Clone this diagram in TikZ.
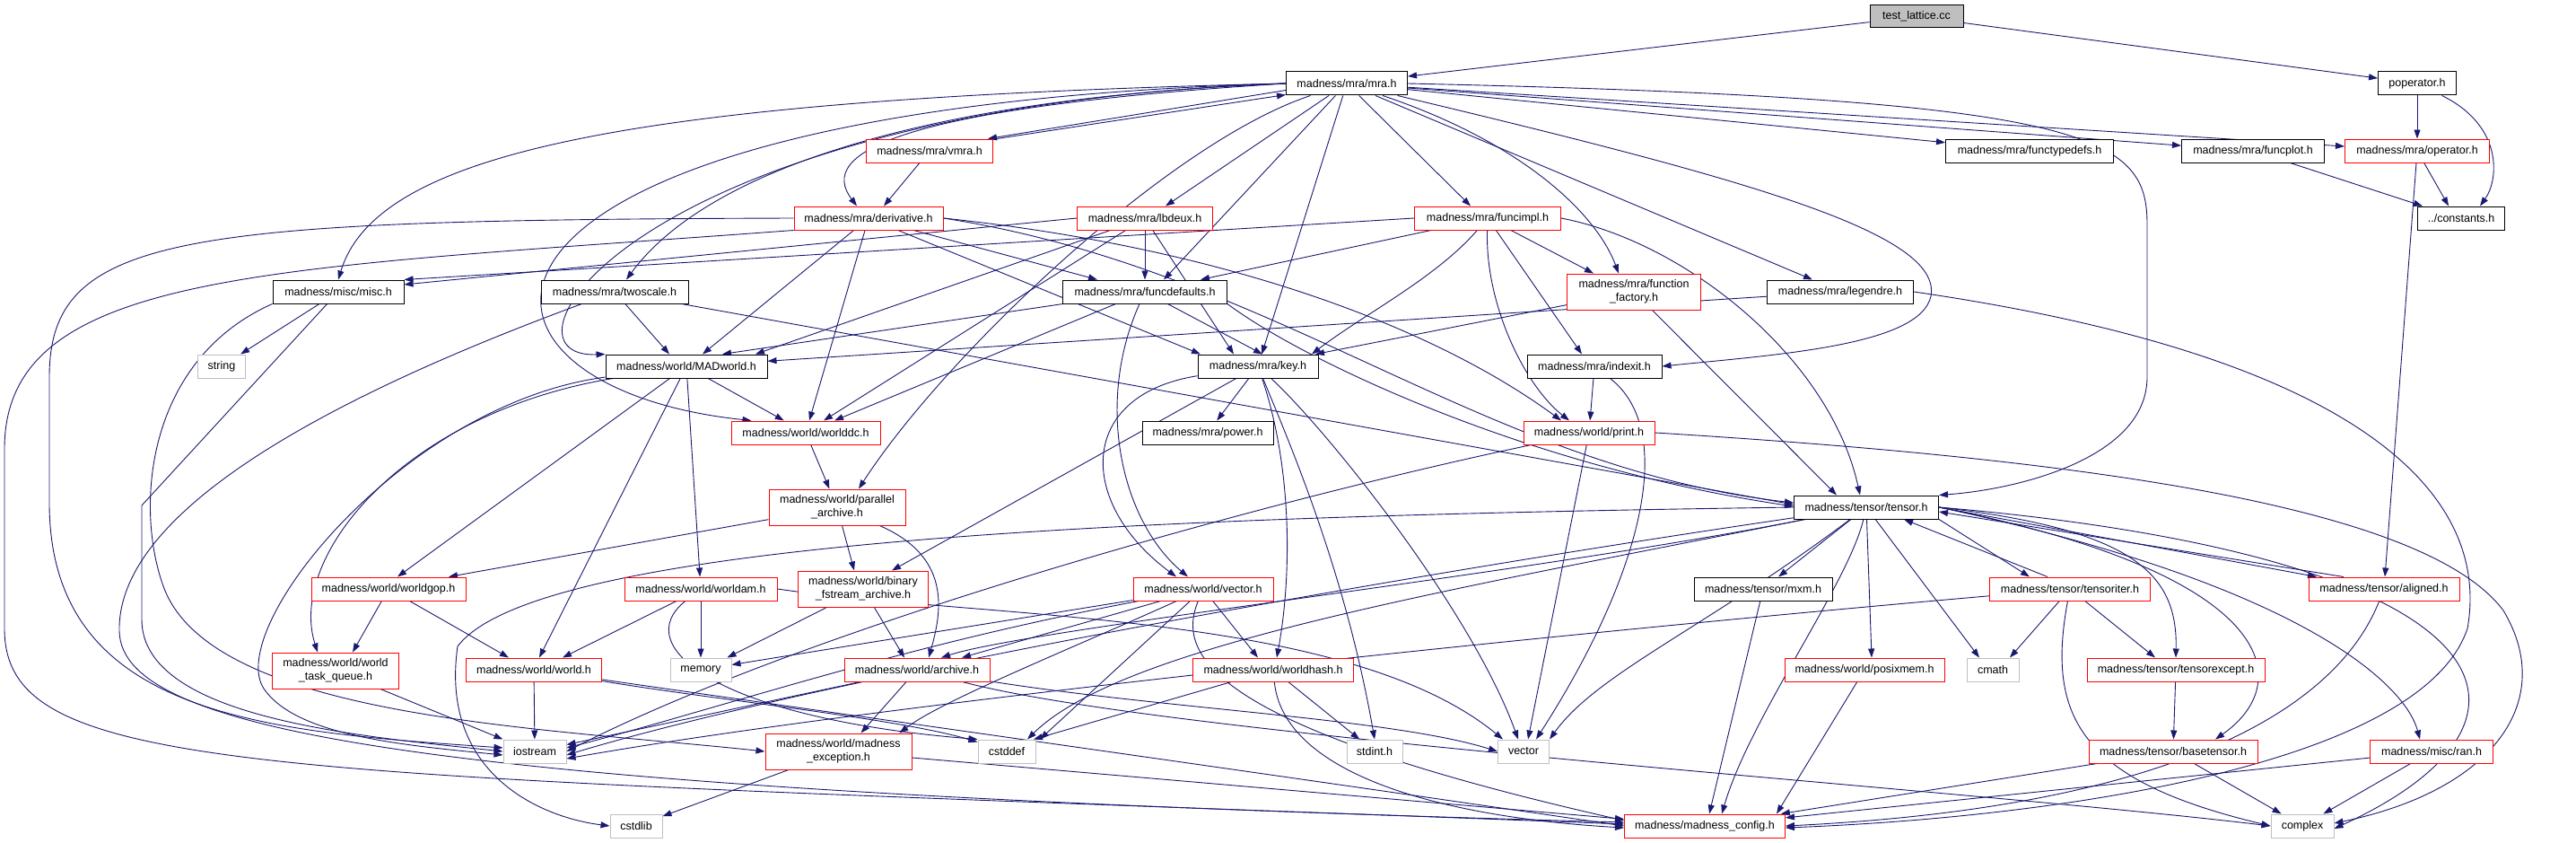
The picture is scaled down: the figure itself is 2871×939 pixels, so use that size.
\documentclass[tikz,border=0pt]{standalone}
\usepackage{fontspec}
\setmainfont{Liberation Sans}
\usetikzlibrary{arrows.meta, positioning}
\pgfdeclarelayer{background}
\pgfsetlayers{background,main}
\definecolor{edgeblue}{HTML}{191970}
\definecolor{sysgray}{HTML}{BFBFBF}

\begin{document}
\begin{tikzpicture}[x=1pt, y=-1pt, >={Triangle[length=10pt, width=7pt]},
    file/.style={rectangle, draw=black, fill=white, line width=1pt, minimum height=26pt, inner sep=0pt, font=\fontsize{12.5}{15}\selectfont, align=center},
    redfile/.style={file, draw=red},
    sysfile/.style={file, draw=sysgray},
    line/.style={draw=edgeblue, line width=0.9pt, ->}]

    \useasboundingbox (0,0) rectangle (2871,939);

    \node [file, fill=sysgray, minimum width=104pt, minimum height=25pt] (test) at (2136,18.5) {test\_lattice.cc};
    \node [file, minimum width=135pt] (mra) at (1501,93) {madness/mra/mra.h};
    \node [file, minimum width=87pt] (poper) at (2694,93) {poperator.h};
    \node [redfile, minimum width=141pt] (vmra) at (1036,168) {madness/mra/vmra.h};
    \node [file, minimum width=187pt] (functypedefs) at (2262,168) {madness/mra/functypedefs.h};
    \node [file, minimum width=159pt] (funcplot) at (2511,168) {madness/mra/funcplot.h};
    \node [redfile, minimum width=161pt] (operator) at (2694,168) {madness/mra/operator.h};
    \node [redfile, minimum width=166pt] (derivative) at (968,243) {madness/mra/derivative.h};
    \node [redfile, minimum width=151pt] (lbdeux) at (1276,243) {madness/mra/lbdeux.h};
    \node [redfile, minimum width=163pt] (funcimpl) at (1658,243) {madness/mra/funcimpl.h};
    \node [file, minimum width=97pt] (constants) at (2743,243) {../constants.h};
    \node [redfile, minimum width=149pt, minimum height=40pt] (factory) at (1821,325) {madness/mra/function\\\_factory.h};
    \node [file, minimum width=146pt] (misc) at (377,325) {madness/misc/misc.h};
    \node [file, minimum width=164pt] (twoscale) at (685,325) {madness/mra/twoscale.h};
    \node [file, minimum width=183pt] (funcdefaults) at (1276,325) {madness/mra/funcdefaults.h};
    \node [file, minimum width=163pt] (legendre) at (2051,325) {madness/mra/legendre.h};
    \node [sysfile, minimum width=53pt] (string) at (247,408) {string};
    \node [file, minimum width=180pt] (madworld) at (765,408) {madness/world/MADworld.h};
    \node [file, minimum width=134pt] (key) at (1402,408) {madness/mra/key.h};
    \node [file, minimum width=150pt] (indexit) at (1777,408) {madness/mra/indexit.h};
    \node [redfile, minimum width=166pt] (worlddc) at (898,482) {madness/world/worlddc.h};
    \node [file, minimum width=146pt] (power) at (1346,482) {madness/mra/power.h};
    \node [redfile, minimum width=146pt] (print) at (1771,482) {madness/world/print.h};
    \node [redfile, minimum width=152pt, minimum height=40pt] (parallel) at (933,565) {madness/world/parallel\\\_archive.h};
    \node [file, minimum width=161pt] (tensor) at (2080,565) {madness/tensor/tensor.h};
    \node [redfile, minimum width=172pt] (worldgop) at (433,656) {madness/world/worldgop.h};
    \node [redfile, minimum width=170pt] (worldam) at (781,656) {madness/world/worldam.h};
    \node [redfile, minimum width=145pt, minimum height=40pt] (binary) at (962,656) {madness/world/binary\\\_fstream\_archive.h};
    \node [redfile, minimum width=156pt] (vectorh) at (1341,656) {madness/world/vector.h};
    \node [file, minimum width=154pt] (mxm) at (1965,656) {madness/tensor/mxm.h};
    \node [redfile, minimum width=179pt] (tensoriter) at (2307,656) {madness/tensor/tensoriter.h};
    \node [redfile, minimum width=168pt] (aligned) at (2657,656) {madness/tensor/aligned.h};
    \node [redfile, minimum width=141pt, minimum height=40pt] (taskq) at (374,747) {madness/world/world\\\_task\_queue.h};
    \node [redfile, minimum width=151pt] (world) at (595,746) {madness/world/world.h};
    \node [sysfile, minimum width=68pt] (memory) at (781,746) {memory};
    \node [redfile, minimum width=162pt] (archive) at (1022,746) {madness/world/archive.h};
    \node [redfile, minimum width=179pt] (worldhash) at (1419,746) {madness/world/worldhash.h};
    \node [redfile, minimum width=178pt] (posixmem) at (2078,746) {madness/world/posixmem.h};
    \node [sysfile, minimum width=58pt] (cmath) at (2221,746) {cmath};
    \node [redfile, minimum width=198pt] (tensorexcept) at (2425,746) {madness/tensor/tensorexcept.h};
    \node [sysfile, minimum width=70pt] (iostream) at (596,837) {iostream};
    \node [redfile, minimum width=163pt, minimum height=40pt] (exception) at (934.5,837) {madness/world/madness\\\_exception.h};
    \node [sysfile, minimum width=64pt] (cstddef) at (1122,837) {cstddef};
    \node [sysfile, minimum width=62pt] (stdint) at (1532,837) {stdint.h};
    \node [sysfile, minimum width=57pt] (vector) at (1698,837) {vector};
    \node [redfile, minimum width=188pt] (basetensor) at (2422,837) {madness/tensor/basetensor.h};
    \node [redfile, minimum width=137pt] (ran) at (2710,837) {madness/misc/ran.h};
    \node [sysfile, minimum width=58pt] (cstdlib) at (709,920) {cstdlib};
    \node [redfile, minimum width=179pt] (config) at (1900,920) {madness/madness\_config.h};
    \node [sysfile, minimum width=70pt] (complex) at (2566,920) {complex};

    \begin{pgfonlayer}{background}
    \path [line] (test) -- (mra);
    \path [line] (test) -- (poper);
    \path [line] (poper) -- (operator);
    \path [line] (poper) .. controls (2790,140) and (2785,200) .. ([xshift=21]constants.north);
    \path [line] (operator) -- ([xshift=-14]constants.north);
    \path [line] (operator) -- (aligned);
    \path [line] (funcplot) -- ([xshift=-43]constants.north);

    \path [line] ([yshift=6pt]mra.south west) -- ([xshift=-6]vmra.north east);
    \path [line] ([xshift=4]vmra.north east) -- ([yshift=1pt]mra.south west);
    \path [line] (mra.west) .. controls (700,110) and (420,170) .. (misc.north);
    \path [line] (mra.west) .. controls (1000,110) and (780,200) .. ([xshift=13]twoscale.north);
    \path [line] (mra.west) .. controls (700,120) and (540,400) .. (madworld.north west);
    \path [line] (mra.west) .. controls (450,120) and (470,430) .. ([xshift=23]worlddc.north west);
    \path [line] (mra) .. controls (1300,160) and (1050,400) .. ([xshift=24]parallel.north);
    \path [line] (mra.west) .. controls (1000,120) and (910,170) .. ([xshift=-13]derivative.north);
    \path [line] (mra) -- ([xshift=23]lbdeux.north);
    \path [line] (mra) -- ([xshift=21]funcdefaults.north);
    \path [line] (mra) -- (key);
    \path [line] (mra) -- ([xshift=-19]funcimpl.north);
    \path [line] (mra) .. controls (1700,160) and (1780,240) .. ([xshift=-17]factory.north);
    \path [line] (mra) -- ([xshift=-31]legendre.north);
    \path [line] (mra) -- (functypedefs);
    \path [line] (mra) -- (funcplot);
    \path [line] (mra) -- (operator);
    \path [line] (mra.east) .. controls (2330,110) and (2393,150) .. (2393,250) -- (2393,420) .. controls (2393,510) and (2250,545) .. (tensor.north east);
    \path [line] (mra) .. controls (1950,200) and (2165,260) .. (2152,330) .. controls (2140,385) and (1980,395) .. (indexit.east);
    \path [line] (vmra) -- ([xshift=17]derivative.north);

    \path [line] (derivative.west) .. controls (200,245) and (55,260) .. (55,420) -- (55,560) .. controls (55,800) and (300,815) .. ([yshift=4pt]iostream.west);
    \path [line] (derivative.south west) .. controls (300,300) and (5,300) .. (5,500) -- (5,700) .. controls (5,870) and (300,860) .. ([yshift=2pt]config.west);
    \path [line] (derivative) -- ([xshift=18]madworld.north);
    \path [line] (derivative) -- (worlddc);
    \path [line] (derivative) -- ([xshift=-64]key.north);
    \path [line] (derivative) -- ([xshift=-53]funcdefaults.north);
    \path [line] (derivative.east) .. controls (1400,280) and (1620,380) .. ([xshift=-31]print.north);
    \path [line] (derivative.east) .. controls (1420,300) and (1650,520) .. ([yshift=5pt]tensor.west);

    \path [line] (lbdeux) -- (funcdefaults);
    \path [line] (lbdeux) -- ([xshift=-27]key.north);
    \path [line] (lbdeux) -- ([xshift=20]worlddc.north);
    \path [line] (lbdeux) -- ([xshift=77]madworld.north);
    \path [line] (lbdeux.west) -- ([yshift=8pt]misc.east);

    \path [line] (funcimpl) -- ([xshift=62]funcdefaults.north);
    \path [line] (funcimpl) .. controls (1600,310) and (1520,350) .. ([xshift=60]key.north);
    \path [line] (funcimpl) -- ([xshift=-45]factory.north);
    \path [line] (funcimpl) -- ([xshift=-14]indexit.north);
    \path [line] (funcimpl) .. controls (1655,340) and (1700,430) .. ([xshift=-22]print.north);
    \path [line] (funcimpl.east) .. controls (1880,270) and (2040,400) .. ([xshift=-7]tensor.north);
    \path [line] (funcimpl.west) -- (misc.north east);

    \path [line] (funcdefaults) -- ([xshift=40]madworld.north);
    \path [line] (funcdefaults) -- ([xshift=32]worlddc.north);
    \path [line] (funcdefaults) -- ([xshift=5]key.north);
    \path [line] (funcdefaults.south east) .. controls (1450,400) and (1700,520) .. ([yshift=1pt]tensor.west);
    \path [line] (funcdefaults) .. controls (1220,450) and (1250,580) .. ([xshift=-17]vectorh.north);

    \path [line] (factory) -- ([xshift=64]key.north);
    \path [line] (factory) -- ([xshift=-33]tensor.north);

    \path [line] (legendre) -- (madworld);
    \path [line] (legendre.east) .. controls (2650,400) and (2775,560) .. (2750,700) .. controls (2700,850) and (2300,910) .. ([yshift=-2pt]config.east);

    \path [line] (misc) -- (string);
    \path [line] (misc) -- (158,563) -- (158,690) .. controls (158,800) and (400,820) .. (iostream.west);
    \path [line] (misc.south west) .. controls (165,400) and (150,560) .. (181,650) .. controls (230,800) and (600,810) .. (exception.west);

    \path [line] (twoscale) -- ([xshift=-19]madworld.north);
    \path [line] (twoscale) -- ([yshift=3pt]tensor.west);
    \path [line] (twoscale) .. controls (400,430) and (130,560) .. (133,703) .. controls (135,820) and (500,880) .. ([yshift=4pt]config.west);

    \path [line] (madworld) -- (worlddc);
    \path [line] (madworld) -- ([xshift=10]worldgop.north);
    \path [line] (madworld) -- (worldam);
    \path [line] (madworld) -- ([xshift=6]world.north);
    \path [line] (madworld) .. controls (450,460) and (320,620) .. ([xshift=-20]taskq.north);
    \path [line] (madworld) .. controls (450,450) and (250,700) .. (294,767) .. controls (330,820) and (450,830) .. ([yshift=-4pt]iostream.west);

    \path [line] (key) -- (power);
    \path [line] (key) -- ([xshift=32]binary.north);
    \path [line] (key) .. controls (1200,440) and (1200,560) .. ([xshift=-30]vectorh.north);
    \path [line] (key) .. controls (1440,520) and (1440,640) .. ([xshift=4]worldhash.north);
    \path [line] (key) .. controls (1440,500) and (1500,640) .. (stdint.north);
    \path [line] (key) .. controls (1480,480) and (1640,680) .. ([xshift=-6]vector.north);

    \path [line] (worlddc) -- (parallel);
    \path [line] (parallel) -- ([xshift=-10]binary.north);
    \path [line] (parallel) .. controls (1060,620) and (1050,680) .. ([xshift=13]archive.north);
    \path [line] (parallel) -- ([xshift=67]worldgop.north);
    \path [line] (binary) -- ([xshift=-5]memory.north east);
    \path [line] (binary) -- ([xshift=-14]archive.north);

    \path [line] (vectorh) -- ([xshift=50]archive.north);
    \path [line] (vectorh) .. controls (1200,720) and (1050,780) .. ([xshift=68]exception.north);
    \path [line] (vectorh) -- ([xshift=37]cstddef.north);
    \path [line] (vectorh) -- ([xshift=-17]worldhash.north);
    \path [line] (vectorh) -- (memory);
    \path [line] (vectorh) .. controls (1000,720) and (800,790) .. ([yshift=4pt]iostream.east);
    \path [line] (vectorh) .. controls (1310,730) and (1350,810) .. ([yshift=6pt]config.west);

    \path [line] (worldam) -- (memory);
    \path [line] (worldam) -- ([xshift=32]world.north);
    \path [line] (worldam) .. controls (700,720) and (800,800) .. (cstddef.north west);
    \path [line] (worldam.east) .. controls (1100,690) and (1500,680) .. ([xshift=-23]vector.north);

    \path [line] (world) -- (iostream);
    \path [line] (world) .. controls (800,780) and (1000,800) .. ([yshift=-3pt]cstddef.north west);
    \path [line] (world) .. controls (900,790) and (1400,860) .. (config.west);
    \path [line] (worldgop) -- ([xshift=19]taskq.north);
    \path [line] (worldgop) -- ([xshift=-28]world.north);
    \path [line] (taskq) -- (iostream.north west);

    \path [line] (archive) -- (iostream);
    \path [line] (archive) -- ([xshift=25]exception.north);
    \path [line] (archive) .. controls (1300,790) and (1550,800) .. (vector.west);
    \path [line] (archive) .. controls (1300,820) and (2200,880) .. (complex.west);
    \path [line] (exception) -- (cstdlib);
    \path [line] (exception) -- (config);

    \path [line] (worldhash) -- (stdint);
    \path [line] (worldhash) -- ([xshift=30]cstddef.north);
    \path [line] (worldhash) .. controls (1430,860) and (1600,910) .. ([yshift=-2pt]config.west);
    \path [line] (indexit) -- (print);
    \path [line] (indexit) .. controls (1870,480) and (1830,640) .. ([xshift=14]vector.north);
    \path [line] (print) -- ([xshift=5]vector.north);
    \path [line] (print) .. controls (1400,560) and (900,700) .. (iostream.east);
    \path [line] (print.east) .. controls (2300,510) and (2700,560) .. (2790,680) .. controls (2850,780) and (2780,880) .. ([yshift=3pt]complex.east);

    \path [line] (tensor) -- (mxm);
    \path [line] (tensor) .. controls (2060,650) and (1950,800) .. ([xshift=19]config.north);
    \path [line] (tensor) -- ([xshift=8]posixmem.north);
    \path [line] (tensor) -- ([xshift=-15]cmath.north);
    \path [line] (tensor.south east) -- ([xshift=-45]tensoriter.north);
    \path [line] ([xshift=-25]tensoriter.north) -- ([xshift=42]tensor.south);
    \path [line] (tensor.east) .. controls (2380,590) and (2427,640) .. (tensorexcept.north);
    \path [line] (tensor.east) .. controls (2540,640) and (2560,760) .. ([xshift=47]basetensor.north);
    \path [line] (tensor.east) -- ([xshift=-75]aligned.north);
    \path [line] ([xshift=-45]aligned.north) -- ([yshift=-5pt]tensor.east);
    \path [line] (tensor.east) .. controls (2560,650) and (2680,760) .. ([xshift=-13]ran.north);
    \path [line] (tensor.east) .. controls (2800,620) and (2870,800) .. ([yshift=-3pt]complex.east);
    \path [line] (tensor.west) .. controls (1300,575) and (600,600) .. (510,720) .. controls (490,860) and (600,910) .. (cstdlib.west);
    \path [line] (tensor) .. controls (1500,650) and (900,760) .. ([yshift=-4pt]iostream.east);
    \path [line] (tensor) .. controls (1700,640) and (1150,700) .. ([xshift=27]archive.north);
    \path [line] (tensor) .. controls (1600,660) and (1250,720) .. ([xshift=23]cstddef.north);
    \path [line] (tensor) .. controls (1900,700) and (1780,750) .. (vector.north east);

    \path [line] (tensoriter) -- ([xshift=19]cmath.north);
    \path [line] (tensoriter) -- ([xshift=-23]tensorexcept.north);
    \path [line] (tensoriter) .. controls (2280,800) and (2320,870) .. (complex.west);
    \path [line] (tensoriter) .. controls (1800,700) and (1000,780) .. ([yshift=-8pt]iostream.east);
    \path [line] (aligned) .. controls (2600,800) and (2400,900) .. (config.east);
    \path [line] (tensorexcept) -- (basetensor);
    \path [line] (basetensor) -- (config);
    \path [line] (basetensor) -- (complex);
    \path [line] (ran) -- (config);
    \path [line] (ran) -- (complex);
    \path [line] (mxm) -- ([xshift=5]config.north);
    \path [line] (posixmem) -- ([xshift=-10]config.north east);
    \end{pgfonlayer}
\end{tikzpicture}
\end{document}
